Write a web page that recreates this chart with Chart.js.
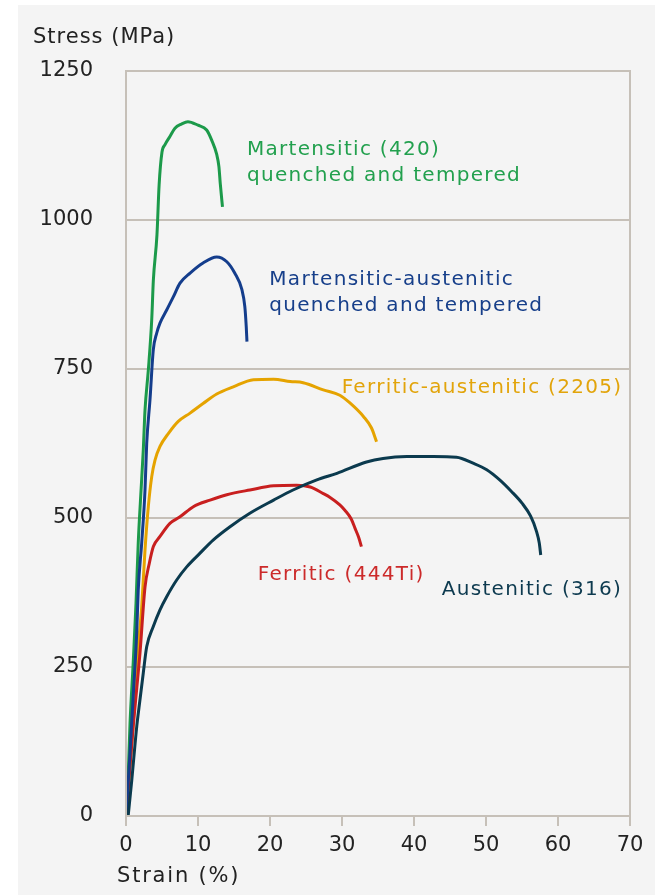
<!DOCTYPE html>
<html lang="en">
<head>
  <meta charset="UTF-8" />
  <title>Stress-strain curves of stainless steels</title>
  <script src="https://cdn.jsdelivr.net/npm/chart.js"></script>
  <style>
    html, body { margin: 0; padding: 0; background: #ffffff; }
    #panel { position: absolute; left: 18px; top: 5px; right: 0; bottom: 0; background: #f4f4f4; }
    #chart { position: absolute; left: 0; top: 0; }
  </style>
</head>
<body>
  <div id="panel"></div>
  <canvas id="chart" width="655" height="895"></canvas>

  <script>
    // axis ticks
    const strainTicks = [0, 10, 20, 30, 40, 50, 60, 70];
    const stressTicks = [0, 250, 500, 750, 1000, 1250];

    // Martensitic (420) quenched and tempered
    const martStrain = [0, 0.25, 0.56, 1.0, 1.39, 1.7, 2.04, 2.4, 2.64, 3.1, 3.57, 3.8, 4.3, 4.6, 5.0, 5.4, 6.1, 6.8, 7.7, 8.6, 10.0, 11.2, 11.9, 12.6, 12.9, 13.1, 13.4];
    const martStress = [0, 50, 156, 257, 357, 458, 536, 614, 681, 748, 832, 899, 975, 1059, 1114, 1126, 1140, 1154, 1161, 1165, 1159, 1151, 1134, 1110, 1090, 1060, 1022];

    // Martensitic-austenitic quenched and tempered
    const martAusStrain = [0, 0.5, 1.0, 1.49, 1.7, 2.18, 2.64, 2.875, 3.33, 3.79, 4.26, 4.72, 5.65, 6.57, 7.5, 8.9, 10.7, 12.6, 14.0, 15.1, 16.1, 16.5, 16.7, 16.8];
    const martAusStress = [0, 95, 200, 307, 379, 458, 547, 625, 698, 782, 810, 827, 849, 871, 894, 911, 928, 938, 930, 911, 883, 855, 821, 796];

    // Ferritic-austenitic (2205)
    const duplexStrain = [0, 0.6, 1.2, 1.7, 2.18, 2.64, 3.1, 3.57, 4.03, 4.72, 5.9, 7.26, 8.9, 10.7, 12.6, 14.9, 17.7, 20.5, 22.8, 24.6, 27.4, 29.7, 31.1, 33.0, 34.1, 34.8];
    const duplexStress = [0, 90, 190, 284, 351, 446, 519, 569, 597, 620, 642, 662, 676, 692, 708, 720, 732, 733, 729, 727, 715, 706, 693, 670, 651, 628];

    // Ferritic (444Ti)
    const ferStrain = [0, 0.5, 1.0, 1.5, 1.94, 2.64, 3.24, 3.8, 4.72, 6.1, 7.5, 9.35, 11.67, 14.0, 17.2, 20.5, 23.7, 25.6, 27.4, 28.3, 29.7, 30.4, 31.3, 31.8, 32.3, 32.7];
    const ferStress = [0, 75, 150, 215, 273, 384, 424, 452, 469, 491, 502, 519, 530, 539, 547, 554, 555, 552, 541, 535, 522, 513, 498, 483, 468, 452];

    // Austenitic (316)
    const ausStrain = [0.3, 0.8, 1.49, 1.94, 2.4, 2.875, 3.79, 4.72, 5.65, 7.04, 8.43, 10.28, 12.1, 14.4, 17.2, 20.5, 23.2, 26.5, 29.3, 33.4, 35.7, 39.0, 42.7, 45.9, 48.2, 50.1, 51.9, 53.5, 55.0, 56.2, 57.0, 57.4, 57.6];
    const ausStress = [0, 60, 150, 195, 240, 284, 318, 346, 368, 396, 418, 441, 463, 485, 508, 530, 547, 564, 575, 594, 600, 603, 603, 602, 592, 581, 564, 545, 525, 503, 478, 458, 438];

    // curve labels, anchored in data units (left edge, baseline)
    const curveLabels = [
      { lines: ['Martensitic (420)', 'quenched and tempered'], x: 16.8, y: 1109, color: '#22a04e' },
      { lines: ['Martensitic-austenitic', 'quenched and tempered'], x: 19.9, y: 891, color: '#173f8a' },
      { lines: ['Ferritic-austenitic (2205)'], x: 29.95, y: 709, color: '#e2a40a' },
      { lines: ['Ferritic (444Ti)'], x: 18.3, y: 396, color: '#cc2a2a' },
      { lines: ['Austenitic (316)'], x: 43.85, y: 371, color: '#0d3a4f' }
    ];

    const gridColor = '#c6c0b8';
    const fontFamily = '"DejaVu Sans", Verdana, sans-serif';

    function toPoints(xs, ys) {
      return xs.map((x, i) => ({ x: x, y: ys[i] }));
    }

    function series(label, xs, ys, color) {
      return {
        label: label,
        data: toPoints(xs, ys),
        borderColor: color,
        borderWidth: 3,
        pointRadius: 0,
        showLine: true,
        fill: false,
        cubicInterpolationMode: 'monotone'
      };
    }

    // plot frame, axis titles and curve labels
    const decorations = {
      id: 'decorations',
      afterDatasetsDraw(chart) {
        const ctx = chart.ctx;
        const area = chart.chartArea;
        const xs = chart.scales.x;
        const ys = chart.scales.y;
        ctx.save();
        ctx.strokeStyle = gridColor;
        ctx.lineWidth = 2;
        ctx.strokeRect(area.left, area.top, area.right - area.left, area.bottom - area.top);

        ctx.letterSpacing = '1.3px';
        ctx.font = '20px ' + fontFamily;
        ctx.textBaseline = 'alphabetic';
        ctx.textAlign = 'left';
        curveLabels.forEach(lbl => {
          ctx.fillStyle = lbl.color;
          const px = xs.getPixelForValue(lbl.x);
          const py = ys.getPixelForValue(lbl.y);
          lbl.lines.forEach((t, i) => ctx.fillText(t, px, py + i * 26));
        });

        ctx.letterSpacing = '1px';
        ctx.font = '21px ' + fontFamily;
        ctx.fillStyle = '#222222';
        ctx.fillText('Stress (MPa)', 33, 43);
        ctx.letterSpacing = '1.8px';
        ctx.fillText('Strain (%)', area.left - 9, 882);
        ctx.restore();
      }
    };

    new Chart(document.getElementById('chart'), {
      type: 'scatter',
      data: {
        datasets: [
          series('Austenitic (316)', ausStrain, ausStress, '#0b3a4e'),
          series('Martensitic-austenitic', martAusStrain, martAusStress, '#143d8c'),
          series('Ferritic (444Ti)', ferStrain, ferStress, '#c81f1f'),
          series('Ferritic-austenitic (2205)', duplexStrain, duplexStress, '#e5a300'),
          series('Martensitic (420)', martStrain, martStress, '#1c9a4a')
        ]
      },
      options: {
        responsive: false,
        animation: false,
        layout: { padding: { top: 71, right: 25, left: 0, bottom: 0 } },
        plugins: {
          legend: { display: false },
          tooltip: { enabled: false }
        },
        scales: {
          x: {
            type: 'linear',
            min: 0,
            max: 70,
            afterBuildTicks: scale => { scale.ticks = strainTicks.map(v => ({ value: v })); },
            afterFit: scale => { scale.height = 79; },
            border: { display: false },
            grid: {
              drawOnChartArea: false,
              drawTicks: true,
              tickLength: 10,
              color: gridColor,
              lineWidth: 2
            },
            ticks: {
              color: '#222222',
              padding: 7,
              maxRotation: 0,
              callback: v => String(v),
              font: { family: fontFamily, size: 21 }
            }
          },
          y: {
            type: 'linear',
            min: 0,
            max: 1250,
            afterBuildTicks: scale => { scale.ticks = stressTicks.map(v => ({ value: v })); },
            afterFit: scale => { scale.width = 126; },
            border: { display: false },
            grid: {
              drawTicks: false,
              color: gridColor,
              lineWidth: 2
            },
            ticks: {
              color: '#222222',
              padding: 33,
              callback: v => String(v),
              font: { family: fontFamily, size: 21 }
            }
          }
        }
      },
      plugins: [decorations]
    });
  </script>
</body>
</html>
